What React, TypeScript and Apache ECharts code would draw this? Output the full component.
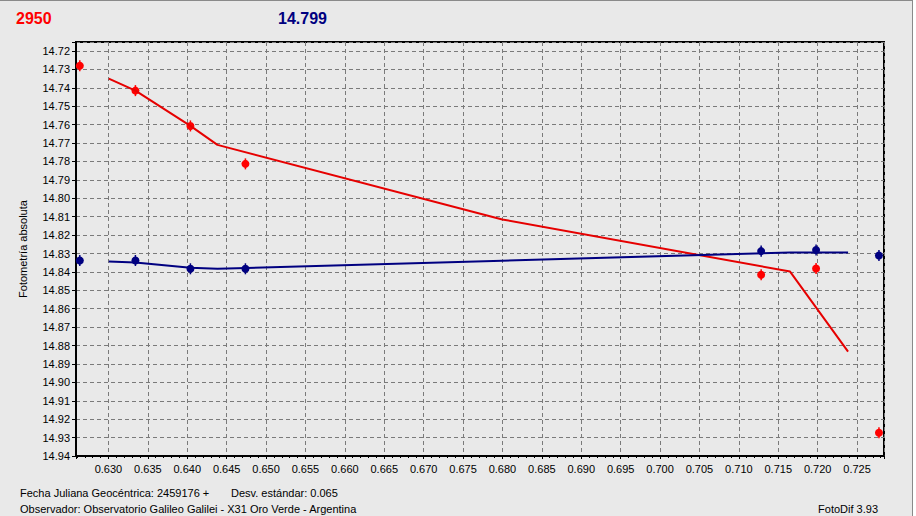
import React, { useEffect, useRef } from "react";
import * as echarts from "echarts";

// Observation epochs (JD fraction) and magnitudes
const obsX = [0.62636, 0.63342, 0.6404, 0.64738, 0.71283, 0.7198, 0.72778];
const redMag = [14.728, 14.7415, 14.7607, 14.7813, 14.8415, 14.8381, 14.9274];
const blueMag = [14.8338, 14.8338, 14.8383, 14.8383, 14.8287, 14.8281, 14.8311];
const redErr = [0.003, 0.003, 0.003, 0.003, 0.003, 0.003, 0.003];
const blueErr = [0.003, 0.003, 0.003, 0.003, 0.003, 0.003, 0.003];

// Fitted curves
const fitX = [0.63004, 0.63342, 0.6404, 0.64383, 0.67998, 0.7165, 0.72386];
const redFit = [14.735, 14.7415, 14.7607, 14.771, 14.8115, 14.8398, 14.8833];
const blueFit = [14.8343, 14.8349, 14.8377, 14.8383, 14.8339, 14.8294, 14.8294];

const titleLeft = "2950";
const titleMid = "14.799";
const yName = "Fotometría absoluta";
const footer1 = "Fecha Juliana Geocéntrica: 2459176 +";
const footer2 = "Desv. estándar: 0.065";
const footer3 = "Observador: Observatorio Galileo Galilei - X31 Oro Verde - Argentina";
const footer4 = "FotoDif 3.93";

const FONT = "Liberation Sans";
const BG = "#e9e9e9";

function pointSeries(name: string, ys: number[], errs: number[], color: string) {
  return {
    name,
    type: "custom",
    data: obsX.map((x, i) => [x, ys[i], errs[i]]),
    clip: false,
    renderItem: (params: any, api: any) => {
      const x = api.value(0);
      const y = api.value(1);
      const e = api.value(2);
      const c = api.coord([x, y]);
      const top = api.coord([x, y - e]);
      const bot = api.coord([x, y + e]);
      return {
        type: "group",
        children: [
          {
            type: "line",
            shape: { x1: c[0], y1: top[1], x2: c[0], y2: bot[1] },
            style: { stroke: color, lineWidth: 1.5 },
          },
          {
            type: "circle",
            shape: { cx: c[0], cy: c[1], r: 4 },
            style: { fill: color },
          },
        ],
      };
    },
  };
}

export default function App() {
  const ref = useRef<HTMLDivElement>(null);
  useEffect(() => {
    document.body.style.margin = "0";
    const chart = echarts.init(ref.current!, null, { renderer: "svg" });
    const gridLine = { show: true, lineStyle: { color: "#7a7a7a", type: [4, 3], width: 1 } };
    chart.setOption({
      animation: false,
      backgroundColor: BG,
      grid: {
        left: 76,
        right: 32,
        top: 42,
        bottom: 60,
        show: true,
        backgroundColor: BG,
        borderColor: "#000",
        borderWidth: 2,
      },
      xAxis: {
        type: "value",
        min: 0.62588,
        max: 0.72842,
        splitNumber: 20,
        minInterval: 0.005,
        maxInterval: 0.005,
        axisLine: { show: true, onZero: false, lineStyle: { color: "#000", width: 2 } },
        axisTick: { show: true, length: 3, lineStyle: { color: "#000" } },
        minorTick: { show: true, splitNumber: 5, length: 2, lineStyle: { color: "#000" } },
        splitLine: gridLine,
        axisLabel: {
          color: "#000",
          fontFamily: FONT,
          fontSize: 11,
          margin: 7,
          formatter: (v: number) =>
            Math.abs(v * 200 - Math.round(v * 200)) < 1e-6 ? v.toFixed(3) : "",
        },
      },
      yAxis: {
        type: "value",
        inverse: true,
        min: 14.7151,
        max: 14.94,
        splitNumber: 22,
        minInterval: 0.01,
        maxInterval: 0.01,
        name: yName,
        nameLocation: "middle",
        nameGap: 48,
        nameTextStyle: { color: "#000", fontFamily: FONT, fontSize: 11 },
        axisLine: { show: true, onZero: false, lineStyle: { color: "#000", width: 2 } },
        axisTick: { show: true, length: 4, lineStyle: { color: "#000" } },
        splitLine: gridLine,
        axisLabel: {
          color: "#000",
          fontFamily: FONT,
          fontSize: 11,
          margin: 6,
          formatter: (v: number) =>
            Math.abs(v * 100 - Math.round(v * 100)) < 1e-6 ? v.toFixed(2) : "",
        },
      },
      series: [
        {
          name: "fit-red",
          type: "line",
          data: fitX.map((x, i) => [x, redFit[i]]),
          symbol: "none",
          lineStyle: { color: "#e60000", width: 2 },
        },
        {
          name: "fit-blue",
          type: "line",
          data: fitX.map((x, i) => [x, blueFit[i]]),
          symbol: "none",
          lineStyle: { color: "#000080", width: 2 },
        },
        pointSeries("red", redMag, redErr, "#ff0000"),
        pointSeries("blue", blueMag, blueErr, "#000080"),
      ],
      graphic: [
        { type: "line", shape: { x1: 0, y1: 0.5, x2: 913, y2: 0.5 }, style: { stroke: "#8a8a8a", lineWidth: 1 } },
        { type: "line", shape: { x1: 912.5, y1: 0, x2: 912.5, y2: 516 }, style: { stroke: "#8a8a8a", lineWidth: 1 } },
        { type: "rect", shape: { x: 913, y: 0, width: 3, height: 516 }, style: { fill: "#ffffff" } },
        {
          type: "text",
          left: 16,
          top: 10,
          style: { text: titleLeft, fill: "#ff0000", font: `bold 16px ${FONT}` },
        },
        {
          type: "text",
          left: 278,
          top: 10,
          style: { text: titleMid, fill: "#000080", font: `bold 16px ${FONT}` },
        },
        {
          type: "text",
          left: 20,
          top: 487,
          style: { text: footer1, fill: "#000", font: `11px ${FONT}` },
        },
        {
          type: "text",
          left: 231,
          top: 487,
          style: { text: footer2, fill: "#000", font: `11px ${FONT}` },
        },
        {
          type: "text",
          left: 20,
          top: 503,
          style: { text: footer3, fill: "#000", font: `11px ${FONT}` },
        },
        {
          type: "text",
          right: 38,
          top: 503,
          style: { text: footer4, fill: "#000", font: `11px ${FONT}` },
        },
      ],
    });
    return () => chart.dispose();
  }, []);
  return (
    <div
      ref={ref}
      style={{ position: "absolute", left: 0, top: 0, width: 916, height: 516 }}
    />
  );
}
